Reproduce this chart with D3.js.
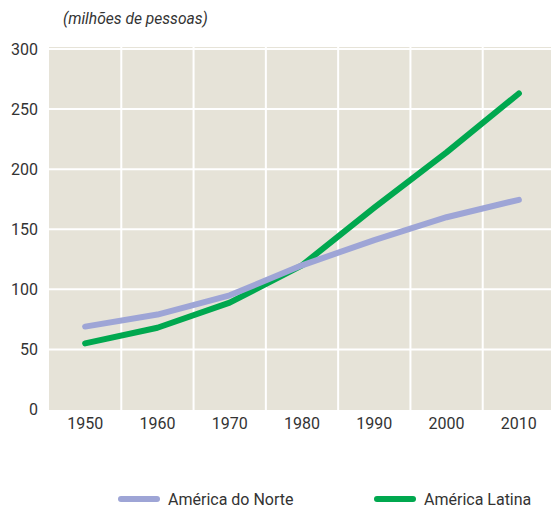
<!DOCTYPE html>
<html><head><meta charset="utf-8">
<script src="https://cdn.jsdelivr.net/npm/d3@7"></script>
<style>body{margin:0;background:#fff}svg{display:block}</style>
</head><body>
<svg id="c" width="551" height="508"></svg>
<script>
const years = ["1950","1960","1970","1980","1990","2000","2010"];
const northAmerica = [69, 79, 95, 120, 141, 160, 174.5];
const latinAmerica = [55, 68, 89, 120, 168, 214, 263];
const yTicks = [0, 50, 100, 150, 200, 250, 300];
const seriesNames = ["América do Norte", "América Latina"];
const colors = ["#9ea5d6", "#00a84f"];

(function(){
const svg = d3.select("#c");
const pL = 49, pR = 555, pT = 47, pB = 410;
const x = d3.scaleBand().domain(years).range([pL, pR]);
const y = d3.scaleLinear().domain([0, 300]).range([409.5, 49]);
const font = "Roboto, 'Liberation Sans', sans-serif";

svg.append("rect").attr("x", pL).attr("y", pT).attr("width", pR-pL).attr("height", pB-pT).attr("fill", "#e6e3d8");

svg.append("g").selectAll("line").data(yTicks.filter(d=>d>0)).join("line")
  .attr("x1", pL).attr("x2", pR).attr("y1", d=>y(d)).attr("y2", d=>y(d))
  .attr("stroke", "#fff").attr("stroke-width", 2);
svg.append("g").selectAll("line").data(years.slice(1)).join("line")
  .attr("x1", d=>x(d)).attr("x2", d=>x(d)).attr("y1", pT).attr("y2", pB)
  .attr("stroke", "#fff").attr("stroke-width", 2);

const ya = svg.append("g").attr("transform", `translate(${pL},0)`)
  .call(d3.axisLeft(y).tickValues(yTicks).tickSize(0).tickPadding(11));
ya.select(".domain").remove();
ya.selectAll("text").attr("font-family", font).attr("font-size", 16).attr("fill", "#333");

const xa = svg.append("g").attr("transform", `translate(0,${pB})`)
  .call(d3.axisBottom(x).tickSize(0).tickPadding(8));
xa.select(".domain").remove();
xa.selectAll("text").attr("font-family", font).attr("font-size", 16).attr("fill", "#333");

const line = d3.line().x((d,i)=>x(years[i]) + x.bandwidth()/2).y(d=>y(d));
[[latinAmerica, 1], [northAmerica, 0]].forEach(([s, k]) => {
  svg.append("path").datum(s).attr("d", line).attr("fill", "none")
    .attr("stroke", colors[k]).attr("stroke-width", 6)
    .attr("stroke-linecap", "round").attr("stroke-linejoin", "round");
});

svg.append("text").attr("x", 63).attr("y", 24).text("(milhões de pessoas)")
  .attr("font-family", font).attr("font-style", "italic").attr("font-size", 15.6).attr("fill", "#333");

const legX = [121, 377];
seriesNames.forEach((n, k) => {
  svg.append("line").attr("x1", legX[k]).attr("x2", legX[k]+36).attr("y1", 499).attr("y2", 499)
    .attr("stroke", colors[k]).attr("stroke-width", 6).attr("stroke-linecap", "round");
  svg.append("text").attr("x", legX[k]+47).attr("y", 505).text(n)
    .attr("font-family", font).attr("font-size", 16).attr("fill", "#333");
});
})();
</script>
</body></html>
